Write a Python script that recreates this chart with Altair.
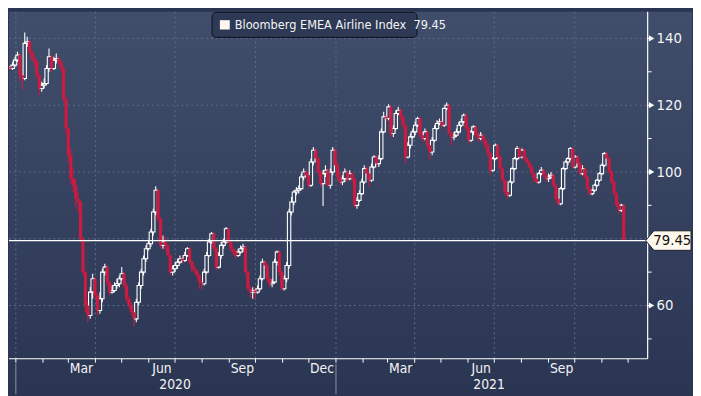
import altair as alt
import pandas as pd

# ---------------- data ----------------
start_date = "2019-12-20"
end_date = "2021-11-26"
first_open = 130.5
closes = [
    131, 131.5, 131, 132, 133.5, 135, 129, 128, 138.5, 139,
    136, 134, 133, 129, 125, 126, 126.5, 131, 134.5, 131,
    133.5, 134, 133, 131, 122, 113, 105, 98, 96, 92,
    91, 80, 70, 60, 57, 64, 68, 63, 58.5, 62,
    70, 71.5, 67, 64, 64.5, 66, 66.5, 68, 69.5, 66,
    62, 60, 58, 56, 61, 66, 70, 74, 77, 78.5,
    82, 88, 94.5, 86, 78, 79, 78, 75, 70, 71,
    72, 73, 74, 73.5, 75, 77, 73, 71, 70.5, 69,
    67, 66.5, 70, 75, 79, 81.5, 77, 71.5, 75, 78,
    79, 83, 79, 77, 76, 75, 76, 77, 77.5, 70,
    65, 64, 64.5, 64, 65, 68, 73, 72, 68, 66.5,
    67, 73, 76, 70, 65, 68, 72, 88, 91, 94,
    94.5, 95, 98.5, 100, 99, 96, 103, 106.5, 104, 100,
    96.5, 99.5, 100.5, 96, 100, 106.5, 102, 98.5, 97, 98,
    100, 98, 99.5, 98, 90, 91.5, 93.5, 97, 101, 99.5,
    97.5, 101.5, 104.5, 102.5, 104, 112, 116.5, 116, 119.5, 111.5,
    113, 117.5, 118.5, 116.5, 114, 104.5, 108, 110.5, 112, 114,
    116, 111, 110, 112, 108, 106, 109.5, 113, 114.5, 115,
    114, 119, 120, 111.5, 110.5, 111, 112, 114, 115, 117,
    113, 109.5, 112, 113.5, 111, 110, 111, 109.5, 108, 105.5,
    100.5, 104, 108, 104.5, 101, 97.5, 94, 93, 97, 101,
    104, 107, 104.5, 106.5, 104, 103, 101.5, 99.5, 98, 97,
    99.5, 100.5, 99, 98, 98.5, 99, 96, 92, 90.5, 95,
    101, 103, 104, 107, 101.5, 104.5, 102.5, 99.5, 101, 98.5,
    95, 93.5, 94.5, 96, 97.5, 99.5, 102, 105.5, 104, 100,
    97, 93.5, 90, 88.5, 90, 79.45,
]
highs = [
    132, 132.5, 132, 133, 134.5, 136, 135.5, 130, 141.8, 140.5,
    139.5, 136.5, 135, 133.5, 129.5, 127, 128, 132, 137, 135,
    134.5, 135.5, 134.5, 133.5, 131.5, 122.5, 113.5, 107, 101, 98,
    94, 91.5, 80.5, 70.5, 61, 65.5, 69.5, 68.5, 63.5, 64,
    71, 72.5, 72, 67.5, 66, 67, 68, 69, 71.5, 70,
    66.5, 63, 61, 58.5, 62, 67, 71, 75, 78, 79.5,
    83, 89, 95.7, 95, 86.5, 81, 80.5, 78.5, 75.5, 72,
    73, 74, 75, 75, 76, 77.5, 77.5, 73.5, 72, 71,
    69.5, 67.5, 71, 76, 80, 82, 82, 77.5, 76, 79,
    80, 83.5, 83, 79.5, 77.5, 76.5, 77, 78, 78.5, 78,
    70.5, 66, 65.5, 65.5, 66, 69, 74, 73.5, 72.5, 68.5,
    68, 74, 76.5, 76.5, 70.5, 69, 73, 89, 92.5, 94.5,
    95.5, 96, 99.5, 101, 100.5, 99.5, 104, 107.5, 107, 104.5,
    100.5, 100.5, 102, 101, 101, 107.5, 107, 103, 99.5, 99,
    101, 100.5, 100.5, 100, 98.5, 92.5, 94.5, 98, 102, 101.5,
    100, 102.5, 105, 105, 105, 113, 118, 117.5, 120.3, 120,
    114, 118.5, 119.5, 119, 117, 114.5, 109, 111.5, 113, 115,
    116.5, 116.5, 112, 113, 112.5, 108.5, 110.5, 114, 115.5, 116,
    116, 119.5, 120.8, 120.5, 112, 112, 113, 115, 116, 117.5,
    117.5, 113.5, 112.5, 114, 114, 112, 112, 111.5, 110, 108.5,
    106, 104.5, 108.5, 108.5, 105, 101.5, 98, 94.5, 97.5, 101.5,
    104.5, 107.8, 107.5, 107, 107, 104.5, 103.5, 102, 100, 98.5,
    100, 101.5, 101, 99.5, 99.5, 100, 99.5, 96.5, 92.5, 95.5,
    101.5, 103.5, 104.5, 107.5, 107.5, 105, 105, 103, 102, 101.5,
    99, 95.5, 95, 96.5, 98, 100, 102.5, 106, 106, 104.5,
    100.5, 97.5, 94, 91, 90.5, 90.5,
]
lows = [
    130, 130.5, 130.5, 130.5, 131.5, 133, 127, 124.5, 127.5, 137.5,
    135, 133, 131.5, 128, 123, 124, 125, 126, 130, 130,
    130.5, 132.5, 132, 130, 121, 111.5, 103, 96.5, 94, 89.5,
    88, 79, 69, 58, 55, 56, 62, 62, 57, 57.5,
    61, 69, 66, 63, 63.5, 64, 65, 65.5, 67.5, 65,
    61, 59, 57, 53.7, 55, 60, 65, 69, 73, 76.5,
    77.5, 81, 87, 85, 77, 77, 76.5, 74.5, 69, 69,
    70, 71, 72.5, 72.5, 73, 74.5, 72.5, 70, 69.5, 68,
    65, 64.7, 66, 69.5, 74.5, 78.5, 76.5, 70.5, 71, 74,
    77, 78.5, 78.5, 76, 75, 74, 74.5, 75.5, 76, 69.5,
    64.5, 62.5, 62, 61.8, 63.5, 64.5, 67.5, 71, 67, 65.5,
    65.5, 66.5, 72, 69, 64.5, 64.5, 67, 71, 87, 90,
    93, 93.5, 94.5, 97.5, 98, 95, 95.5, 102, 103, 99,
    95.5, 89.8, 98.5, 95.5, 95, 99, 101, 97.5, 96, 96,
    97, 97, 97.5, 97, 89.3, 89, 91, 93, 96.5, 98.5,
    95.5, 97, 101, 101.5, 101.5, 103.5, 111.5, 114.5, 115.5, 110.5,
    110.5, 112.5, 117, 115.5, 113, 102.5, 104, 107, 110, 111,
    113.5, 110, 109, 109.5, 107, 103.7, 105, 109, 112.5, 114,
    113, 113.5, 118.5, 111, 108, 109.5, 110.5, 111.5, 113.5, 114.5,
    112.5, 108.5, 109, 111, 110.5, 109, 109.5, 108.5, 107, 104.5,
    99, 100, 103.5, 104, 100.5, 97, 93, 92, 92.5, 96.5,
    100.5, 103.5, 104, 104, 103.5, 102.5, 101, 99, 97, 96.5,
    96.5, 99, 98.5, 97, 97, 98, 95.5, 91.5, 90.2, 90,
    94.5, 100.5, 102, 103.5, 101, 101, 101.5, 99, 99, 98,
    94.5, 93, 93, 94, 95.5, 97, 99, 101.5, 103.5, 99.5,
    96.5, 93, 89.5, 87.5, 88, 79.3,
]
last_value = 79.45
series_name = "Bloomberg EMEA Airline Index"

month_labels = ["Mar", "Jun", "Sep", "Dec", "Mar", "Jun", "Sep"]
month_label_dates = ["2020-03-16", "2020-06-16", "2020-09-16", "2020-12-16",
                     "2021-03-16", "2021-06-16", "2021-09-16"]
month_starts = ["2020-01-01", "2020-02-01", "2020-03-01", "2020-04-01", "2020-05-01",
                "2020-06-01", "2020-07-01", "2020-08-01", "2020-09-01", "2020-10-01",
                "2020-11-01", "2020-12-01", "2021-01-01", "2021-02-01", "2021-03-01",
                "2021-04-01", "2021-05-01", "2021-06-01", "2021-07-01", "2021-08-01",
                "2021-09-01", "2021-10-01", "2021-11-01", "2021-12-01"]
year_labels = ["2020", "2021"]
year_label_dates = ["2020-07-01", "2021-06-25"]
year_starts = ["2020-01-01", "2021-01-01"]
quarter_grid = ["2020-01-01", "2020-04-01", "2020-07-01", "2020-10-01",
                "2021-01-01", "2021-04-01", "2021-07-01", "2021-10-01"]
y_grid = [60, 80, 100, 120, 140]
y_ticks = [50, 60, 70, 80, 90, 100, 110, 120, 130, 140]
y_labeled = [60, 100, 120, 140]

# ---------------- layout / style ----------------
W, H = 648, 352
TOTAL_W, TOTAL_H = 693, 388
FONT = "Liberation Sans Narrow, Arial Narrow, DejaVu Sans Condensed, sans-serif"
UP = "#ffffff"
DOWN = "#cc1a40"
GRID = "#5b6d8b"
TXT = "#f4f4f4"

opens = [first_open] + closes[:-1]
dates = pd.date_range(start_date, end_date, periods=len(closes))
df = pd.DataFrame({"date": dates, "open": opens, "close": closes,
                   "high": highs, "low": lows})
df["top"] = df[["open", "close"]].max(axis=1)
df["bot"] = df[["open", "close"]].min(axis=1)
up = df[df["close"] >= df["open"]]
dn = df[df["close"] < df["open"]]

xscale = alt.Scale(domain=[alt.DateTime(year=2019, month=12, date=29, hours=19),
                           alt.DateTime(year=2021, month=12, date=17, hours=17)], nice=False)
yscale = alt.Scale(domain=[44.06, 147.97], nice=False, zero=False)


def X(field):
    return alt.X(field, scale=xscale, axis=None)


def Y(field):
    return alt.Y(field, scale=yscale, axis=None)


one = pd.DataFrame({"a": [0]})

bg = alt.Chart(one).mark_rect(
    color=alt.LinearGradient(gradient="linear",
                             stops=[alt.GradientStop(color="#404e6c", offset=0),
                                    alt.GradientStop(color="#2a3552", offset=1)],
                             x1=0, x2=0, y1=0, y2=1)
).encode(x=alt.value(0), x2=alt.value(TOTAL_W), y=alt.value(0), y2=alt.value(TOTAL_H))

vgrid = alt.Chart(pd.DataFrame({"d": quarter_grid})).mark_rule(
    color=GRID, strokeDash=[2, 3], strokeWidth=1
).encode(x=X("d:T"), y=alt.value(0), y2=alt.value(H))

hgrid = alt.Chart(pd.DataFrame({"v": y_grid})).mark_rule(
    color=GRID, strokeDash=[2, 3], strokeWidth=1
).encode(y=Y("v:Q"), x=alt.value(0), x2=alt.value(W))


def wick(data, color, lo, hi):
    return alt.Chart(data).mark_rule(color=color, strokeWidth=1.1, clip=True).encode(
        x=X("date:T"), y=Y(f"{lo}:Q"), y2=f"{hi}:Q")


wicks = [wick(up, UP, "top", "high"), wick(up, UP, "low", "bot"),
         wick(dn, DOWN, "top", "high"), wick(dn, DOWN, "low", "bot")]

body_up = alt.Chart(up).mark_bar(width=3.4, fillOpacity=0, stroke=UP, strokeWidth=1.1,
                                 clip=True).encode(
    x=X("date:T"), y=Y("open:Q"), y2="close:Q")

body_dn = alt.Chart(dn).mark_bar(width=3.2, color=DOWN, clip=True).encode(
    x=X("date:T"), y=Y("open:Q"), y2="close:Q")

last_df = pd.DataFrame({"v": [last_value], "t": [f"{last_value:.2f}"]})
last_line = alt.Chart(last_df).mark_rule(color="white", strokeWidth=1.2).encode(
    y=Y("v:Q"), x=alt.value(0), x2=alt.value(W))

# hand-drawn axes
x_domain = alt.Chart(one).mark_rule(color="white", strokeWidth=1.2).encode(
    x=alt.value(0), x2=alt.value(W), y=alt.value(H))
y_domain = alt.Chart(one).mark_rule(color="white", strokeWidth=1.2).encode(
    x=alt.value(W), y=alt.value(0), y2=alt.value(H))
x_ticks = alt.Chart(pd.DataFrame({"d": month_starts})).mark_rule(
    color="white", strokeWidth=1).encode(x=X("d:T"), y=alt.value(H), y2=alt.value(H + 4))
y_tick_marks = alt.Chart(pd.DataFrame({"v": y_ticks})).mark_rule(
    color="white", strokeWidth=1).encode(y=Y("v:Q"), x=alt.value(W), x2=alt.value(W + 4))
arrows = alt.Chart(pd.DataFrame({"v": y_labeled})).mark_point(
    shape="triangle-right", filled=True, size=40, color="white", opacity=1
).encode(x=alt.value(W + 4), y=Y("v:Q"))
y_labels = alt.Chart(pd.DataFrame({"v": y_labeled})).mark_text(
    font=FONT, fontSize=15, color=TXT, align="left", baseline="middle"
).encode(x=alt.value(W + 9), y=Y("v:Q"), text="v:Q")

tag_path = "M -1 0 L -0.64 -0.43 L 1 -0.43 L 1 0.43 L -0.64 0.43 Z"
tag = alt.Chart(last_df).mark_point(
    shape=tag_path, filled=True, size=2116, fill="#fff8ec", stroke="#1a2030",
    strokeWidth=1, opacity=1
).encode(x=alt.value(W + 21), y=Y("v:Q"))
tag_text = alt.Chart(last_df).mark_text(
    font=FONT, fontSize=15, color="#111111", align="center", baseline="middle"
).encode(x=alt.value(W + 25), y=Y("v:Q"), text="t:N")

months = alt.Chart(pd.DataFrame({"d": month_label_dates, "t": month_labels})).mark_text(
    font=FONT, fontSize=14, color=TXT, baseline="middle", align="center"
).encode(x=X("d:T"), y=alt.value(H + 10), text="t:N")

years = alt.Chart(pd.DataFrame({"d": year_label_dates, "t": year_labels})).mark_text(
    font=FONT, fontSize=14, color=TXT, baseline="middle", align="center"
).encode(x=X("d:T"), y=alt.value(H + 27), text="t:N")

year_sep = alt.Chart(pd.DataFrame({"d": year_starts})).mark_rule(
    color="#8a93a8", strokeWidth=1
).encode(x=X("d:T"), y=alt.value(H + 5), y2=alt.value(TOTAL_H))

legend_box = alt.Chart(one).mark_rect(
    fill="#2d3955", stroke="#0e1119", strokeWidth=1, cornerRadius=4
).encode(x=alt.value(206), x2=alt.value(414), y=alt.value(0.5), y2=alt.value(26))
legend_sq = alt.Chart(one).mark_rect(fill="#fff6f0").encode(
    x=alt.value(214), x2=alt.value(224), y=alt.value(8.5), y2=alt.value(18))
legend_txt = alt.Chart(pd.DataFrame({"t": [f"{series_name}\u00a0 {last_value:.2f}"]})).mark_text(
    font=FONT, fontSize=12.8, color=TXT, align="left", baseline="middle"
).encode(x=alt.value(229), y=alt.value(13.5), text="t:N")

chart = alt.layer(
    bg, vgrid, hgrid, *wicks, body_up, body_dn, last_line,
    x_domain, y_domain, x_ticks, y_tick_marks, arrows, y_labels, tag, tag_text,
    months, years, year_sep, legend_box, legend_sq, legend_txt
).properties(width=W, height=H, padding=0, background="#2a3552"
).configure_view(stroke=None)

chart.save("out.html", embed_options={"renderer": "svg", "actions": False})
